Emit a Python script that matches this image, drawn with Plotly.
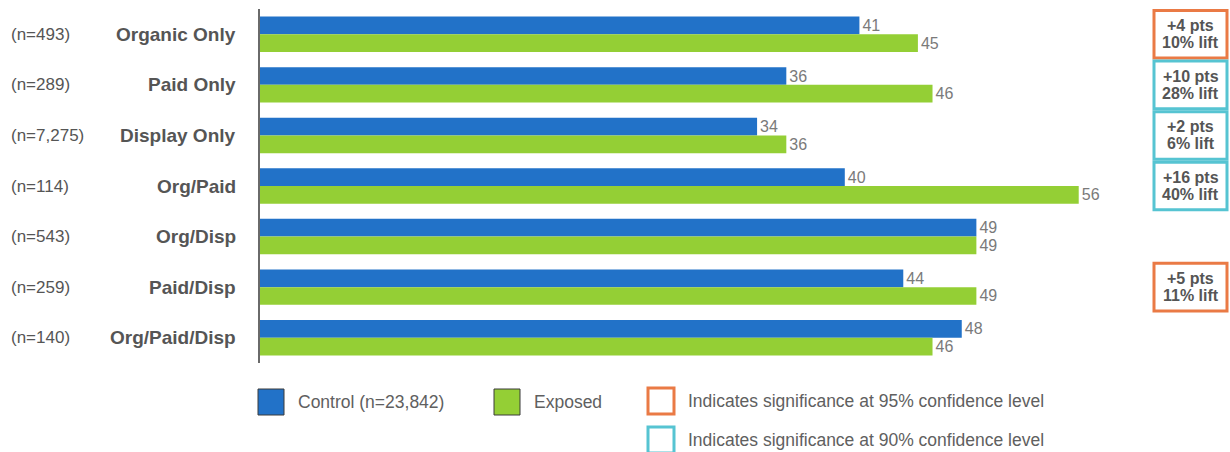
import plotly.graph_objects as go

# Audience segments and sample sizes
categories = ["Organic Only", "Paid Only", "Display Only", "Org/Paid",
              "Org/Disp", "Paid/Disp", "Org/Paid/Disp"]
sample_sizes = ["(n=493)", "(n=289)", "(n=7,275)", "(n=114)",
                "(n=543)", "(n=259)", "(n=140)"]
control = [41, 36, 34, 40, 49, 44, 48]
exposed = [45, 46, 36, 56, 49, 49, 46]
# Significance level of the lift per segment (None = not significant)
significance = [95, 90, 90, 90, None, 95, None]

BLUE = "#2272c8"
GREEN = "#94cf35"
ORANGE = "#ea7a45"
CYAN = "#56c4d2"
TEXT = "#555555"
VALUE_TEXT = "#7a7a7a"
FONT = "Liberation Sans, Arial, sans-serif"

W, H = 1230, 452
ML, MR, MT, MB = 260, 92, 9, 89
PW, PH = W - ML - MR, H - MT - MB


def px_x(px):
    return (px - ML) / PW


def px_y(py):
    return (H - MB - py) / PH


fig = go.Figure()
fig.add_trace(go.Bar(
    y=categories, x=control, orientation="h", name="Control (n=23,842)",
    marker=dict(color=BLUE, line=dict(width=0)),
    text=[str(v) for v in control], textposition="outside",
    textfont=dict(color=VALUE_TEXT, size=16, family=FONT),
    cliponaxis=False,
))
fig.add_trace(go.Bar(
    y=categories, x=exposed, orientation="h", name="Exposed",
    marker=dict(color=GREEN, line=dict(width=0)),
    text=[str(v) for v in exposed], textposition="outside",
    textfont=dict(color=VALUE_TEXT, size=16, family=FONT),
    cliponaxis=False,
))

annotations = []
shapes = []

# Left-hand labels: sample size and segment name
for cat, n in zip(categories, sample_sizes):
    annotations.append(dict(
        x=px_x(9), xref="paper", y=cat, yref="y", text=n,
        showarrow=False, xanchor="left", yanchor="middle",
        font=dict(size=17, color=TEXT, family=FONT)))
    annotations.append(dict(
        x=px_x(238), xref="paper", y=cat, yref="y", text=f"<b>{cat}</b>",
        showarrow=False, xanchor="right", yanchor="middle",
        font=dict(size=19, color=TEXT, family=FONT)))

# Lift boxes on the right
for i, (cat, c, e, sig) in enumerate(zip(categories, control, exposed, significance)):
    if sig is None:
        continue
    pts = e - c
    pct = round(100 * pts / c)
    color = ORANGE if sig == 95 else CYAN
    shapes.append(dict(
        type="rect", xref="paper", yref="y",
        x0=px_x(1154), x1=px_x(1227), y0=i - 0.47, y1=i + 0.47,
        line=dict(color=color, width=3), fillcolor="white"))
    for line_text, shift in ((f"+{pts} pts", 8.5), (f"{pct}% lift", -8.5)):
        annotations.append(dict(
            x=px_x(1190.5), xref="paper", y=cat, yref="y",
            text=f"<b>{line_text}</b>", yshift=shift,
            showarrow=False, xanchor="center", yanchor="middle",
            font=dict(size=16, color=TEXT, family=FONT)))

# Legend drawn underneath the chart
legend_items = [
    (258, 389, BLUE, BLUE, "Control (n=23,842)"),
    (494, 389, GREEN, GREEN, "Exposed"),
    (648, 388, "white", ORANGE, "Indicates significance at 95% confidence level"),
    (648, 427, "white", CYAN, "Indicates significance at 90% confidence level"),
]
for x0, y0, fill, border, label in legend_items:
    shapes.append(dict(
        type="rect", xref="paper", yref="paper",
        x0=px_x(x0), x1=px_x(x0 + 26), y0=px_y(y0 + 26), y1=px_y(y0),
        fillcolor=fill,
        line=dict(color="#3a3a3a" if fill != "white" else border,
                  width=1 if fill != "white" else 3)))
    annotations.append(dict(
        x=px_x(x0 + 38), xref="paper", y=px_y(y0 + 13), yref="paper",
        text=label, showarrow=False, xanchor="left", yanchor="middle",
        font=dict(size=17.5, color="#606060", family=FONT)))

fig.update_layout(
    width=W, height=H,
    margin=dict(l=ML, r=MR, t=MT, b=MB),
    paper_bgcolor="white", plot_bgcolor="white",
    barmode="group", bargap=0.3, bargroupgap=0,
    showlegend=False,
    xaxis=dict(range=[0, PW / 14.62], visible=False, fixedrange=True),
    yaxis=dict(autorange="reversed", showticklabels=False, ticks="",
               showline=True, linecolor="#6a6a6a", linewidth=2,
               showgrid=False, zeroline=False),
    annotations=annotations,
    shapes=shapes,
    font=dict(family=FONT),
)

fig.write_html("out.html")
